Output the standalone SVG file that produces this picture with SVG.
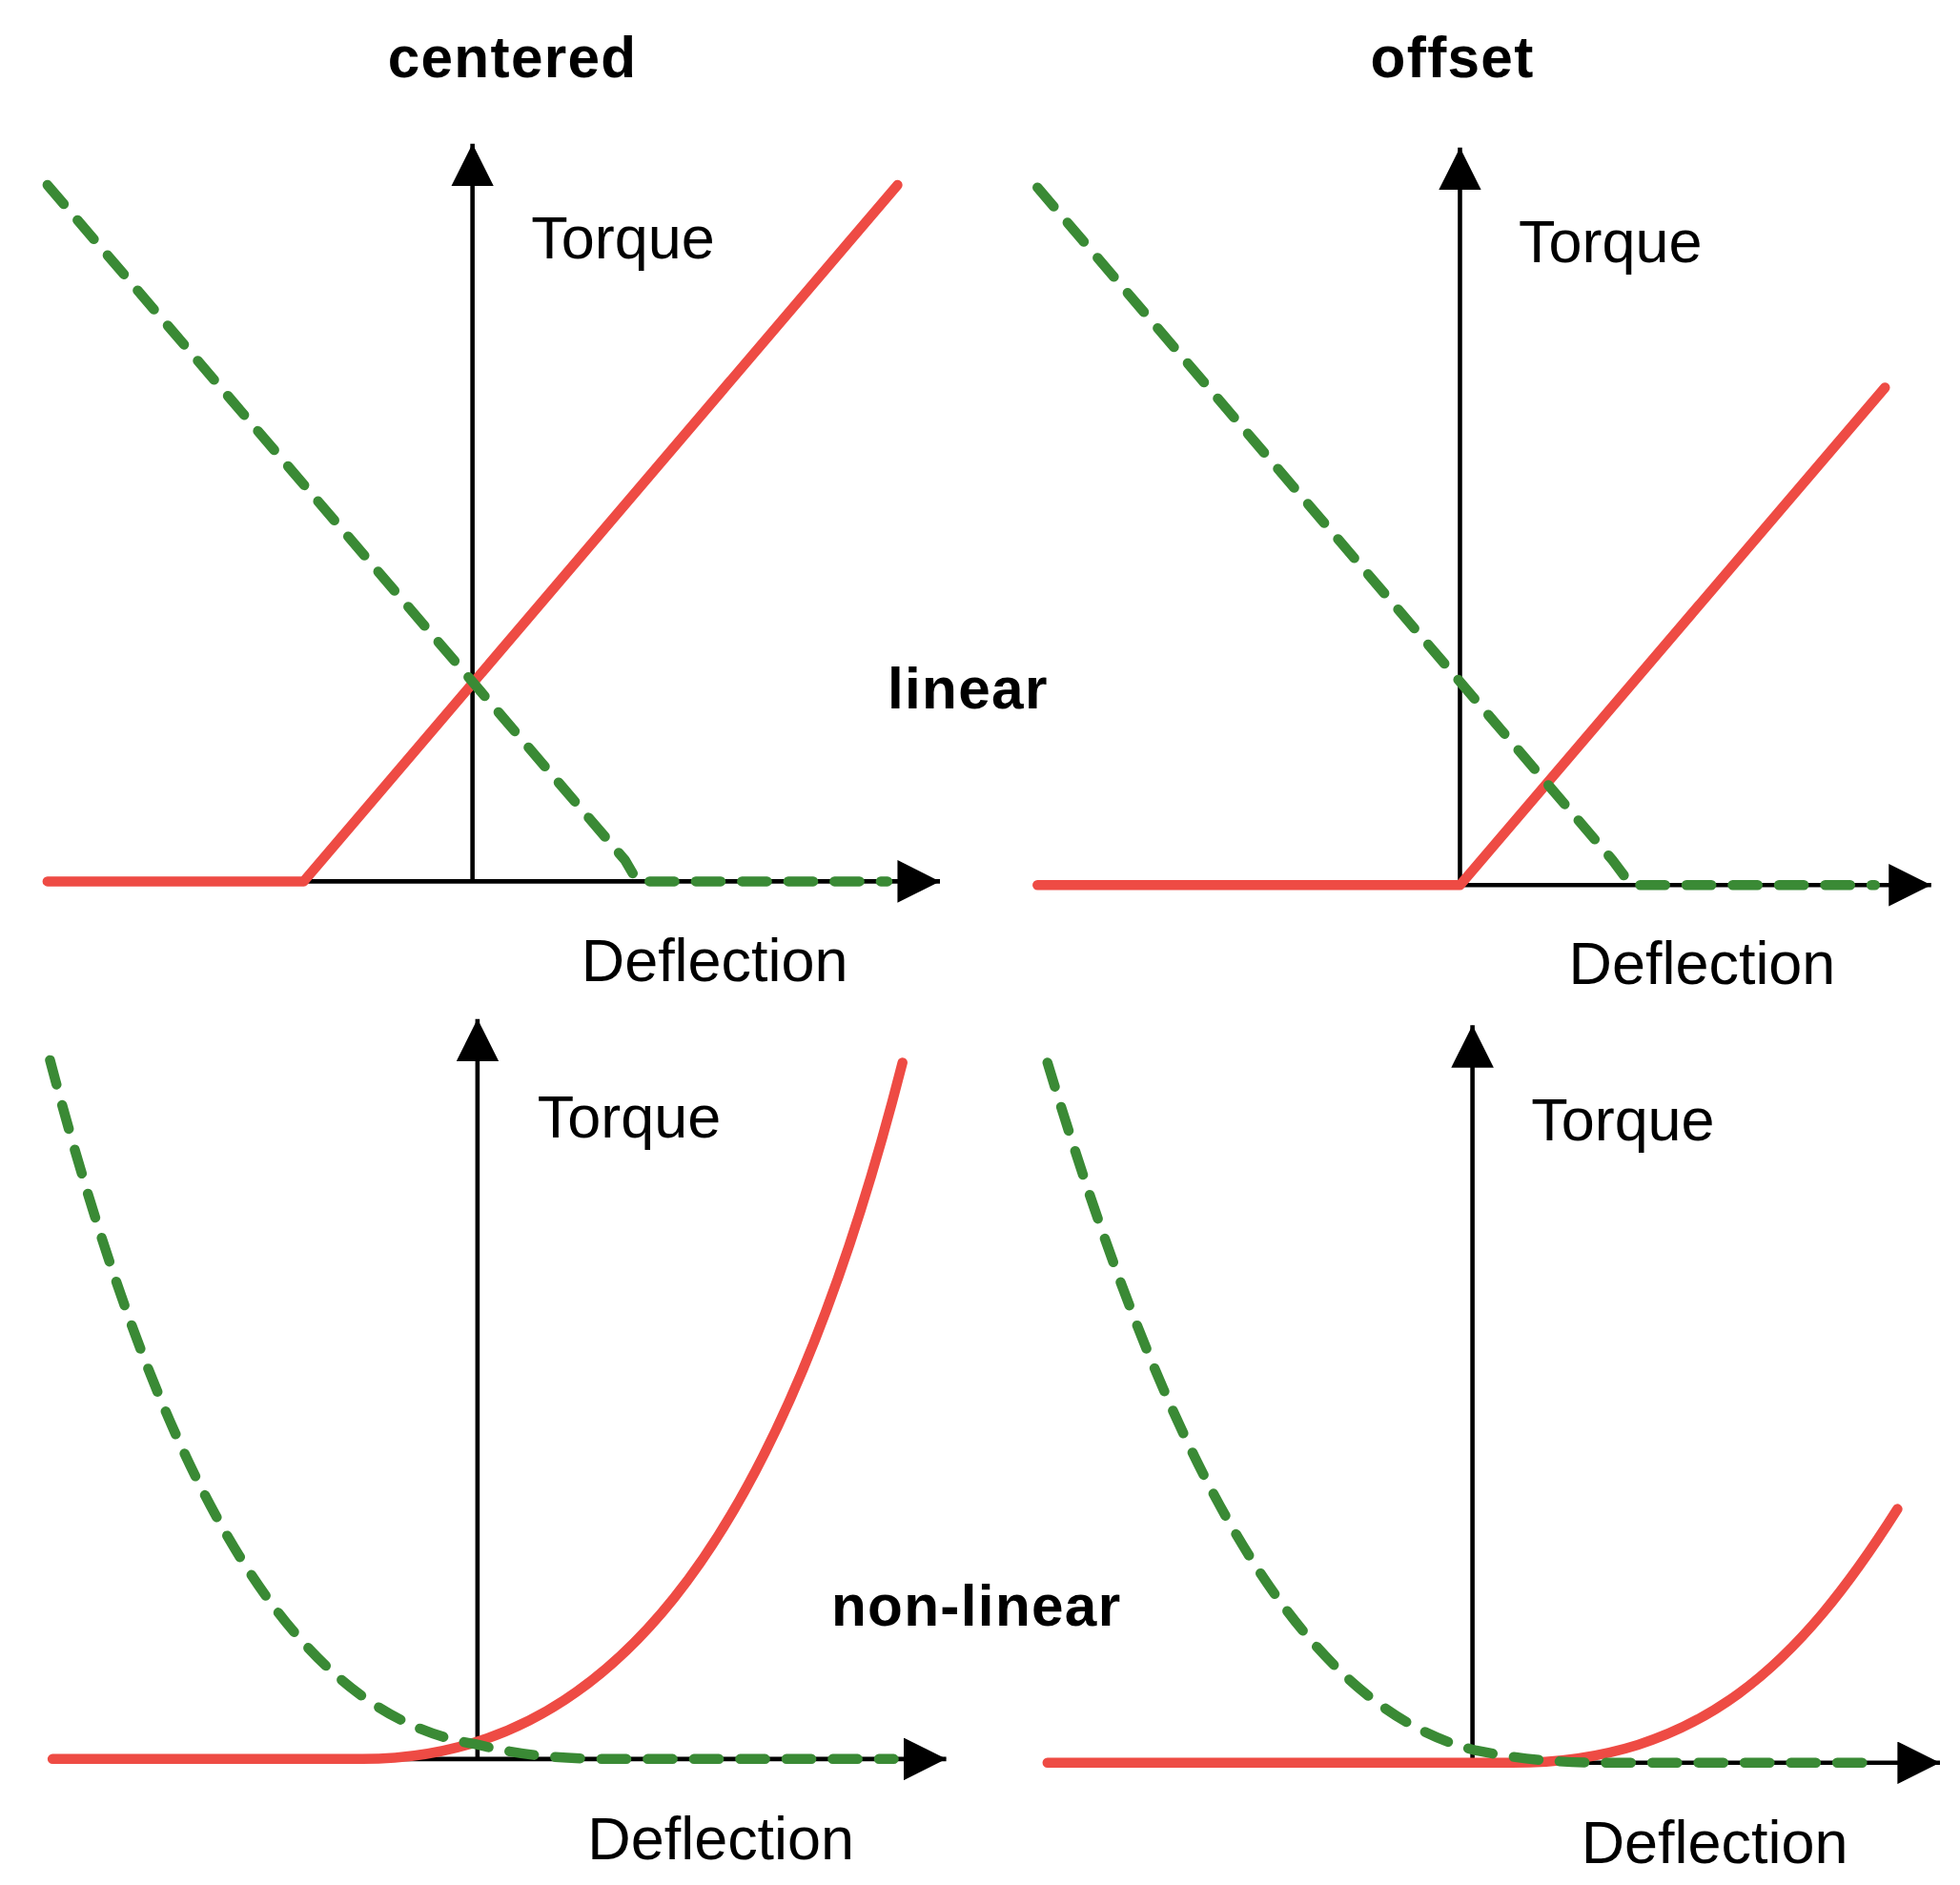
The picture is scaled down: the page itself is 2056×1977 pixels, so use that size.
<svg xmlns="http://www.w3.org/2000/svg" width="2056" height="1977" viewBox="0 0 2056 1977">
<style>
.ax{stroke:#000;stroke-width:3.5;fill:none}
.red{stroke:#ee4b44;stroke-width:8;fill:none;stroke-linecap:round;stroke-linejoin:round}
.grn{stroke:#3a8a35;stroke-width:8;fill:none;stroke-dasharray:20 17;stroke-linecap:round}
.lab{font-family:"Liberation Sans",Arial,sans-serif;font-size:48px;fill:#000}
.ttl{font-family:"Liberation Sans",Arial,sans-serif;font-size:46px;font-weight:bold;fill:#000;letter-spacing:1px}
</style>
<defs><marker id="ar" markerWidth="10" markerHeight="10" refX="9" refY="5" orient="auto" markerUnits="userSpaceOnUse" viewBox="0 0 10 10"><path d="M0,0 L10,5 L0,10 z" fill="#000"/></marker>
<marker id="a" viewBox="0 0 10 10" refX="10" refY="5" markerWidth="34" markerHeight="34" markerUnits="userSpaceOnUse" orient="auto"><path d="M0,0 L10,5 L0,10 z" fill="#000"/></marker></defs>
<rect width="2056" height="1977" fill="#fff"/>
<g transform="scale(1.3112)">
<g id="titles">
<text class="ttl" x="410" y="62" text-anchor="middle">centered</text>
<text class="ttl" x="1162" y="62" text-anchor="middle">offset</text>
<text class="ttl" x="710" y="567">linear</text>
<text class="ttl" x="665" y="1300">non-linear</text>
</g>
<g id="p1">
<path class="ax" d="M378,705 L378,115" marker-end="url(#a)"/>
<path class="ax" d="M240,705 L752,705" marker-end="url(#a)"/>
<path class="red" d="M38,705 L243,705 L718,148"/>
<path class="grn" d="M38,148 L500,688 L510,705 L710,705"/>
<text class="lab" x="425" y="207">Torque</text>
<text class="lab" x="465" y="785">Deflection</text>
</g>
<g id="p2">
<path class="ax" d="M1168,708 L1168,118" marker-end="url(#a)"/>
<path class="ax" d="M1168,708 L1545,708" marker-end="url(#a)"/>
<path class="red" d="M830,708 L1168,708 L1508,310"/>
<path class="grn" d="M830,150 L1290,688 L1305,708 L1500,708"/>
<text class="lab" x="1215" y="210">Torque</text>
<text class="lab" x="1255" y="787">Deflection</text>
</g>
<g id="p3">
<path class="ax" d="M382,1407 L382,815" marker-end="url(#a)"/>
<path class="ax" d="M300,1407 L757,1407" marker-end="url(#a)"/>
<path class="red" d="M42,1407 L290,1407 C480,1407 620,1250 722,850"/>
<path class="grn" d="M40,848 C120,1150 220,1370 380,1395 C420,1405 450,1407 500,1407 L715,1407"/>
<text class="lab" x="430" y="910">Torque</text>
<text class="lab" x="470" y="1487">Deflection</text>
</g>
<g id="p4">
<path class="ax" d="M1178,1410 L1178,820" marker-end="url(#a)"/>
<path class="ax" d="M1100,1410 L1552,1410" marker-end="url(#a)"/>
<path class="red" d="M838,1410 L1210,1410 C1360,1410 1440,1330 1518,1207"/>
<path class="grn" d="M838,850 C920,1120 1020,1360 1180,1400 C1220,1408 1250,1410 1290,1410 L1500,1410"/>
<text class="lab" x="1225" y="912">Torque</text>
<text class="lab" x="1265" y="1490">Deflection</text>
</g>
</g>
</svg>
